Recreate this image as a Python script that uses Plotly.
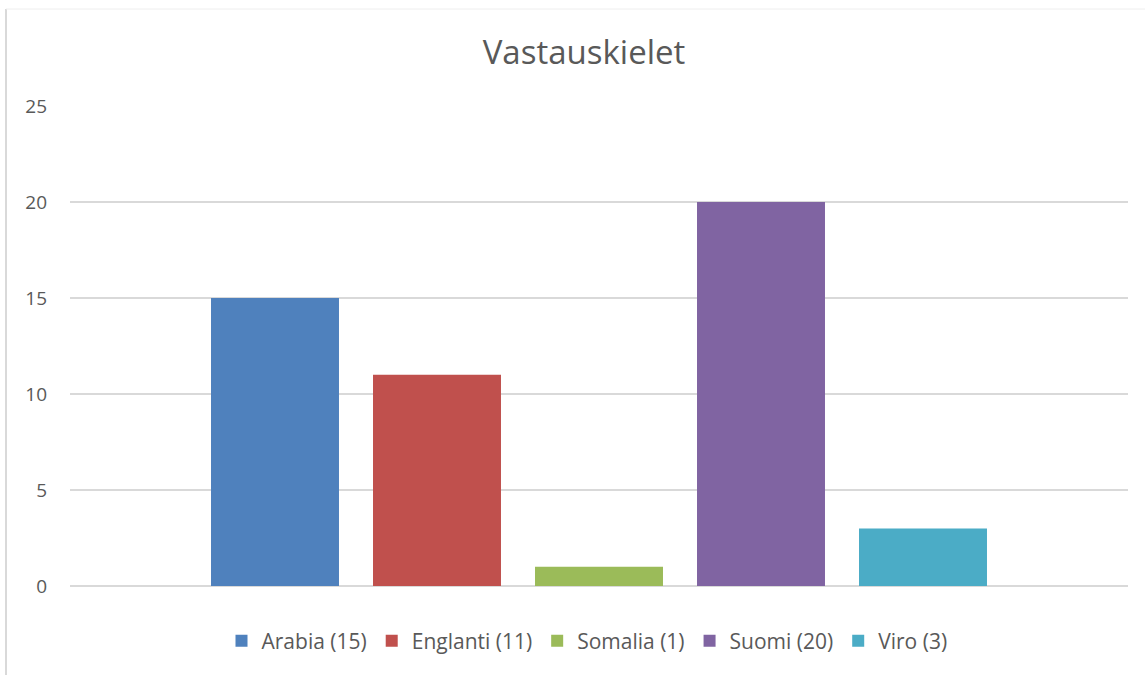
import plotly.graph_objects as go

languages = ["Arabia (15)", "Englanti (11)", "Somalia (1)", "Suomi (20)", "Viro (3)"]
counts = [15, 11, 1, 20, 3]
colors = ["#4f81bd", "#c0504d", "#9bbb59", "#8064a2", "#4bacc6"]
category = [""]

FONT = "Open Sans, sans-serif"
W, H = 1145, 675
L, R, T, B = 70, 17, 106, 89
pw, ph = W - L - R, H - T - B


def px_x(x):
    return (x - L) / pw


def px_y(y):
    return (H - B - y) / ph


fig = go.Figure()
for name, val, col in zip(languages, counts, colors):
    fig.add_trace(go.Bar(x=category, y=[val], name=name, marker=dict(color=col, line=dict(width=0))))

fig.update_layout(
    width=W, height=H, autosize=False,
    margin=dict(l=L, r=R, t=T, b=B),
    paper_bgcolor="white", plot_bgcolor="white",
    barmode="group", bargap=0.2344, bargroupgap=0.21,
    title=dict(text="Vastauskielet", x=584 / W, xanchor="center", y=1 - 52 / H, yanchor="middle",
               font=dict(family=FONT, size=33, color="#595959")),
    font=dict(family=FONT, size=19, color="#595959"),
    showlegend=True,
    legend=dict(orientation="h", x=px_x(587), xanchor="center", y=px_y(641), yanchor="middle",
                font=dict(family=FONT, size=21, color="#595959"), itemwidth=30, traceorder="normal"),
    xaxis=dict(showgrid=False, showticklabels=False, showline=False, zeroline=False, fixedrange=True),
    yaxis=dict(range=[0, 25], dtick=5, tick0=0, showgrid=True, gridcolor="#d9d9d9", gridwidth=1.5,
               zeroline=True, zerolinecolor="#d9d9d9", zerolinewidth=1.5, showline=False,
               ticks="", ticklabelstandoff=22, tickfont=dict(family=FONT, size=19, color="#595959")),
)

fig.add_shape(type="line", xref="paper", yref="paper",
              x0=px_x(6), x1=px_x(6), y0=px_y(685), y1=px_y(9),
              line=dict(color="#d9d9d9", width=2))
fig.add_shape(type="line", xref="paper", yref="paper",
              x0=px_x(6), x1=px_x(1150), y0=px_y(9), y1=px_y(9),
              line=dict(color="#eeeeee", width=1))

fig.write_html("out.html", config={"displayModeBar": False},
               post_script="document.body.style.margin='0px';")
